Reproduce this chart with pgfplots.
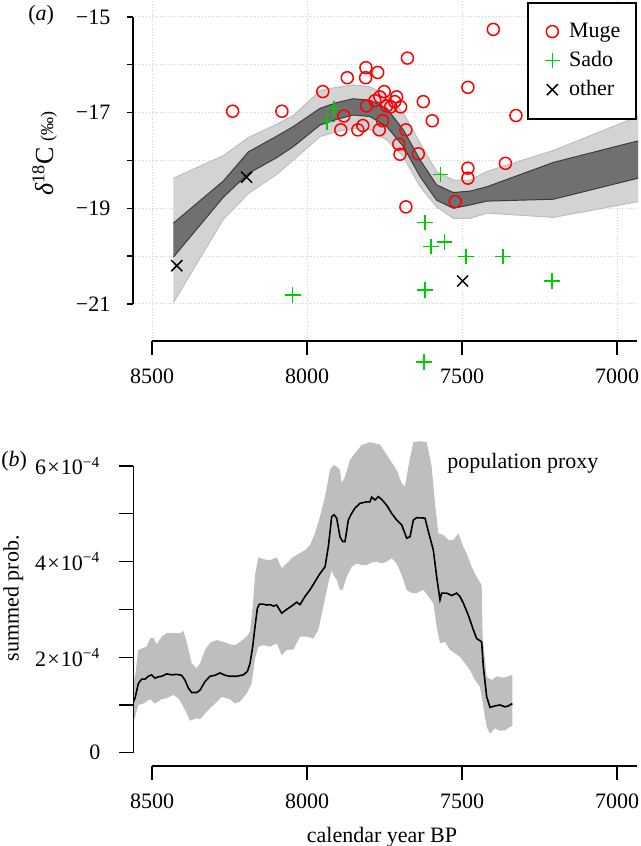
\documentclass[border=0pt]{standalone}
\usepackage{fontspec}
\setmainfont{Liberation Serif}
\usepackage{pgfplots}
\usepackage{pgfplotstable}
\pgfplotsset{compat=1.18}
\usepgfplotslibrary{fillbetween}

\definecolor{mred}{RGB}{255,0,0}
\definecolor{mgreen}{RGB}{0,205,0}
\definecolor{bandlight}{RGB}{211,211,211}
\definecolor{bandlightedge}{RGB}{190,190,190}
\definecolor{banddark}{RGB}{112,112,112}
\definecolor{banddarkedge}{RGB}{60,60,60}
\definecolor{popband}{RGB}{190,190,190}
\definecolor{gridc}{RGB}{210,210,210}

% GAM fit band: year, outer low, inner low, inner high, outer high
\pgfplotstableread{
year ol il ih oh
8431 -20.97 -20.02 -19.31 -18.37
8270 -19.23 -18.77 -18.43 -17.90
8189 -18.69 -18.27 -17.82 -17.52
8100 -18.30 -17.95 -17.50 -17.25
8044 -17.99 -17.71 -17.29 -17.06
7958 -17.50 -17.26 -16.91 -16.54
7904 -17.40 -17.14 -16.79 -16.47
7851 -17.33 -17.05 -16.71 -16.42
7797 -17.36 -17.08 -16.74 -16.46
7743 -17.57 -17.29 -16.91 -16.63
7689 -17.92 -17.71 -17.36 -17.01
7635 -18.55 -18.34 -17.99 -17.64
7582 -18.97 -18.83 -18.51 -18.23
7528 -19.21 -19.00 -18.67 -18.41
7474 -19.21 -18.93 -18.64 -18.41
7420 -19.10 -18.85 -18.55 -18.23
7205 -19.19 -18.81 -18.04 -17.79
6932 -18.86 -18.37 -17.59 -17.08
}\gamband

\pgfplotstableread{
year d
8240 -16.97
8081 -16.97
7949 -16.56
7870 -16.27
7810 -16.06
7811 -16.27
7772 -16.16
7676 -15.86
7399 -15.26
7481 -16.47
7326 -17.06
7881 -17.07
7891 -17.36
7836 -17.36
7820 -17.27
7808 -16.86
7781 -16.75
7765 -16.67
7751 -16.56
7767 -17.36
7756 -17.17
7743 -16.86
7730 -16.88
7717 -16.77
7711 -16.67
7698 -16.88
7681 -17.36
7704 -17.66
7700 -17.87
7625 -16.77
7596 -17.17
7641 -17.86
7681 -18.97
7481 -18.16
7481 -18.37
7360 -18.06
7522 -18.86
}\muge

\pgfplotstableread{
year d
8046 -20.81
7936 -17.19
7913 -16.91
7569 -18.29
7619 -19.30
7600 -19.80
7556 -19.70
7487 -20.01
7367 -20.01
7209 -20.52
7619 -20.71
7623 -22.21
}\sado

\pgfplotstableread{
year d
8420 -20.20
8195 -18.35
7498 -20.52
}\other

% summed probability (population proxy), in units of 10^-4
\pgfplotstableread{
year p
8563.4 1.02
8554.8 1.14
8544.0 1.45
8533.3 1.54
8522.5 1.54
8511.8 1.60
8501.0 1.63
8490.3 1.56
8479.5 1.59
8468.8 1.60
8452.6 1.65
8436.5 1.63
8420.4 1.64
8404.2 1.62
8393.5 1.52
8382.7 1.35
8372.0 1.26
8355.9 1.26
8345.1 1.31
8329.0 1.49
8312.9 1.60
8296.7 1.62
8280.6 1.67
8264.5 1.62
8248.3 1.60
8226.8 1.60
8205.3 1.63
8192.4 1.70
8183.8 1.87
8175.2 2.22
8167.7 2.64
8160.2 3.02
8153.7 3.11
8140.8 3.11
8130.1 3.09
8119.3 3.10
8108.5 3.07
8097.8 3.09
8081.7 2.92
8065.5 3.00
8049.4 3.07
8033.3 3.15
8022.6 3.10
8006.5 3.27
7990.3 3.41
7974.2 3.58
7958.1 3.75
7941.9 3.89
7931.2 4.31
7920.4 4.94
7912.9 4.98
7904.3 4.91
7893.6 4.52
7885.0 4.42
7877.4 4.42
7866.7 4.87
7855.9 5.01
7845.2 5.12
7829.0 5.22
7807.5 5.25
7796.8 5.25
7791.4 5.35
7780.7 5.29
7769.9 5.36
7759.1 5.30
7743.0 5.18
7726.9 5.01
7710.8 4.87
7694.6 4.77
7678.5 4.49
7667.7 4.52
7657.0 4.87
7646.2 4.92
7619.4 4.91
7608.6 4.63
7592.5 4.24
7581.7 3.68
7571.0 3.20
7565.6 3.34
7549.5 3.34
7533.3 3.29
7517.2 3.34
7506.5 3.27
7495.7 3.13
7479.6 2.88
7463.4 2.57
7452.7 2.39
7436.6 2.32
7431.2 1.80
7420.4 1.17
7409.7 0.95
7393.6 0.98
7377.4 1.00
7361.3 0.96
7350.5 0.98
7337.6 1.03
}\popline

\pgfplotstableread{
year p
8563.4 1.52
8554.8 1.59
8544.0 2.15
8533.3 2.18
8517.2 2.22
8506.4 2.39
8495.7 2.41
8484.9 2.27
8468.8 2.43
8452.6 2.50
8431.1 2.51
8409.6 2.50
8398.9 2.55
8388.1 2.32
8372.0 1.87
8355.9 1.77
8345.1 1.87
8329.0 2.15
8312.9 2.30
8291.3 2.36
8269.8 2.32
8248.3 2.27
8232.2 2.25
8216.1 2.32
8194.6 2.43
8183.8 2.53
8175.2 3.06
8167.7 3.72
8156.9 4.09
8140.8 4.05
8119.3 4.03
8097.8 4.09
8081.7 3.86
8065.5 3.96
8049.4 4.07
8027.9 4.16
8006.5 4.24
7990.3 4.35
7974.2 4.59
7958.1 4.94
7941.9 5.36
7925.8 5.92
7915.1 6.02
7904.3 5.99
7893.6 5.92
7888.2 5.64
7877.4 5.78
7861.3 6.13
7845.2 6.27
7823.7 6.44
7796.8 6.50
7764.5 6.45
7732.3 6.13
7710.8 5.92
7694.6 5.64
7683.9 5.57
7673.1 5.99
7657.0 6.50
7635.5 6.52
7614.0 6.50
7597.9 5.99
7587.1 5.22
7576.4 4.59
7560.2 4.56
7544.1 4.45
7528.0 4.45
7511.8 4.59
7495.7 4.31
7485.0 4.17
7468.8 3.89
7452.7 3.68
7436.6 3.51
7433.3 2.43
7420.4 1.59
7404.3 1.52
7388.2 1.60
7366.7 1.57
7350.5 1.60
7337.6 1.63
}\popup

\pgfplotstableread{
year p
8563.4 0.61
8554.8 0.75
8544.0 1.00
8527.9 1.03
8506.4 1.12
8490.3 1.03
8468.8 1.12
8452.6 1.14
8431.1 1.21
8415.0 1.14
8404.2 1.03
8388.1 0.82
8377.4 0.67
8355.9 0.72
8345.1 0.70
8323.6 0.86
8296.7 1.03
8275.2 1.17
8248.3 1.12
8232.2 1.03
8216.1 1.07
8194.6 1.24
8178.4 1.45
8167.7 1.97
8156.9 2.22
8140.8 2.25
8119.3 2.22
8097.8 2.29
8081.7 2.04
8065.5 2.15
8044.0 2.16
8022.6 2.43
8001.1 2.43
7979.6 2.39
7963.5 2.57
7947.3 3.06
7931.2 3.55
7920.4 3.82
7915.1 3.72
7904.3 3.62
7893.6 3.41
7885.0 3.41
7872.1 3.68
7855.9 3.89
7839.8 3.96
7823.7 3.93
7807.5 3.93
7791.4 3.98
7775.3 4.00
7759.1 3.96
7743.0 4.00
7726.9 4.07
7710.8 3.96
7694.6 3.72
7678.5 3.41
7662.4 3.34
7646.2 3.34
7624.7 3.41
7608.6 3.27
7592.5 3.13
7581.7 2.64
7571.0 2.29
7554.8 2.32
7538.7 2.15
7522.6 2.08
7506.5 2.01
7490.3 1.87
7474.2 1.73
7458.1 1.52
7441.9 1.38
7431.2 0.96
7420.4 0.54
7409.7 0.40
7393.6 0.51
7377.4 0.46
7361.3 0.47
7345.2 0.54
7337.6 0.56
}\poplow

\newcommand{\fs}{\fontsize{11}{13.2}\selectfont}
\newcommand{\sci}[1]{#1\hspace{0.6pt}×\hspace{0.6pt}10\textsuperscript{−4}}

\begin{document}
\begin{tikzpicture}[font=\fs]

% ---------------- panel (a)
\begin{axis}[
  at={(66.5pt,-170.5pt)}, anchor=south west,
  scale only axis, width=252pt, height=170.5pt,
  x dir=reverse, xmin=6935.5, xmax=8561.3,
  ymin=-21.774, ymax=-14.645,
  clip=false,
  axis line style={draw=none},
  xtick={8500,8000,7500,7000},
  xticklabels={8500,8000,7500,7000},
  ytick={-21,-20,-19,-18,-17,-16,-15},
  yticklabels={−21,,−19,,−17,,−15},
  extra x ticks={8500,8000,7500,7000},
  extra x tick labels={,,,},
  extra x tick style={major tick length=6.75pt, grid=none},
  xtick pos=left, ytick pos=left,
  tick align=outside,
  major tick length=3pt,
  tick style={black, line width=0.65pt},
  grid=major,
  major grid style={gridc, densely dotted, line width=0.5pt},
  xticklabel style={font=\fs, yshift=-7.3pt},
  yticklabel style={font=\fs, xshift=-4.8pt},
  legend style={at={(1,1)}, anchor=north east, yshift=-1pt, draw=black, line width=0.85pt,
    fill=white, inner xsep=5.9pt, inner ysep=8pt, row sep=1.5pt, font=\fs,
    cells={anchor=west}},
  legend image code/.code={\path (0cm,0cm) (0.42cm,0cm); \draw[#1] plot coordinates {(0.21cm,0cm)};},
]
\addplot[draw=none, name path=oh, forget plot] table[x=year, y=oh] {\gamband};
\addplot[draw=none, name path=ol, forget plot] table[x=year, y=ol] {\gamband};
\addplot[draw=none, name path=ih, forget plot] table[x=year, y=ih] {\gamband};
\addplot[draw=none, name path=il, forget plot] table[x=year, y=il] {\gamband};
\addplot[bandlight, forget plot] fill between[of=oh and ol];
\addplot[banddark, forget plot] fill between[of=ih and il];
\addplot[bandlightedge, line width=0.5pt, forget plot] table[x=year, y=oh] {\gamband};
\addplot[bandlightedge, line width=0.5pt, forget plot] table[x=year, y=ol] {\gamband};
\addplot[banddarkedge, line width=0.5pt, forget plot] table[x=year, y=ih] {\gamband};
\addplot[banddarkedge, line width=0.5pt, forget plot] table[x=year, y=il] {\gamband};

\addplot[only marks, mark=o, mark size=3.0pt, color=mred, line width=0.75pt] table[x=year, y=d] {\muge};
\addlegendentry{Muge}
\addplot[only marks, mark=+, mark size=3.9pt, color=mgreen, line width=0.75pt] table[x=year, y=d] {\sado};
\addlegendentry{Sado}
\addplot[only marks, mark=x, mark size=3.9pt, color=black, line width=0.75pt] table[x=year, y=d] {\other};
\addlegendentry{other}

\draw[line width=0.65pt] (axis cs:8500,-21.774) -- (axis cs:6935.5,-21.774);
\draw[line width=0.65pt] (axis cs:8561.3,-21) -- (axis cs:8561.3,-15);
\end{axis}

% ---------------- panel (b)
\begin{axis}[
  at={(66.5pt,-383pt)}, anchor=south west,
  scale only axis, width=252pt, height=168pt,
  x dir=reverse, xmin=6935.5, xmax=8561.3,
  ymin=-0.278, ymax=6.754,
  axis line style={draw=none},
  xtick={8500,8000,7500,7000},
  xticklabels={8500,8000,7500,7000},
  ytick={0,1,2,3,4,5,6},
  yticklabels={0,,\sci{2},,\sci{4},,\sci{6}},
  xtick pos=left, ytick pos=left,
  tick align=outside,
  major tick length=7pt,
  tick style={black, line width=0.65pt},
  xticklabel style={font=\fs, yshift=-3.3pt},
  yticklabel style={font=\fs, xshift=-5.8pt},
]
\addplot[draw=none, name path=pu, forget plot] table[x=year, y=p] {\popup};
\addplot[draw=none, name path=pl, forget plot] table[x=year, y=p] {\poplow};
\addplot[popband, forget plot] fill between[of=pu and pl];
\addplot[black, line width=0.8pt] table[x=year, y=p] {\popline};

\draw[line width=0.65pt] (axis cs:8500,-0.278) -- (axis cs:6935.5,-0.278);
\draw[line width=0.65pt] (axis cs:8561.3,0) -- (axis cs:8561.3,6);
\end{axis}

% ---------------- labels
\node[anchor=base west, inner sep=0pt] at (14pt,-10pt) {(\textit{a})};
\node[rotate=90, anchor=base, inner sep=0pt] at (26.6pt,-76.7pt)
  {{\fontsize{13}{15}\selectfont\textit{δ}\textsuperscript{18}C} {\fontsize{9}{11}\selectfont(‰)}};
\node[anchor=base west, inner sep=0pt] at (0.5pt,-233pt) {(\textit{b})};
\node[rotate=90, anchor=base, inner sep=0pt] at (9.3pt,-299.2pt) {summed prob.};
\node[anchor=base, inner sep=0pt] at (191pt,-421pt) {calendar year BP};
\node[anchor=base west, inner sep=0pt] at (223.5pt,-234.2pt) {population proxy};

\pgfresetboundingbox
\path[use as bounding box] (0,0) rectangle (320.5pt,-423pt);
\end{tikzpicture}
\end{document}
